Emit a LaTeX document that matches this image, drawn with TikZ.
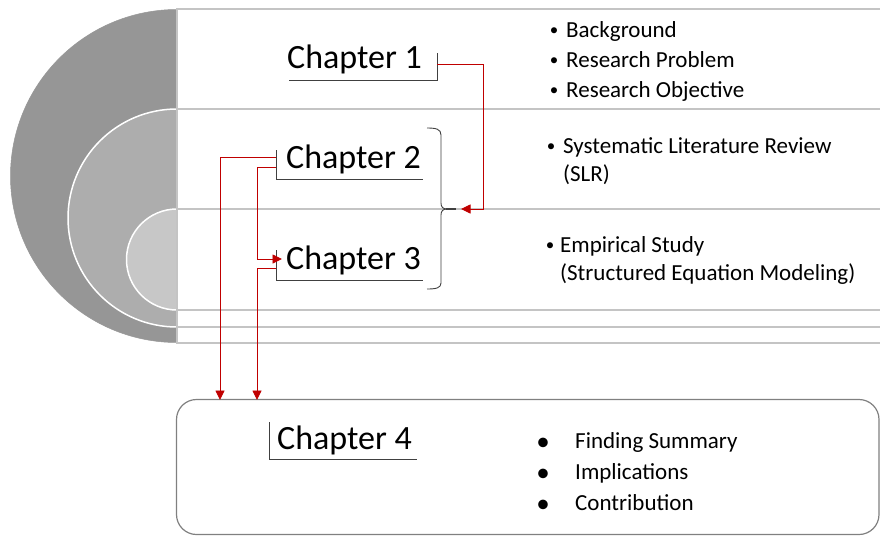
\documentclass[tikz,border=0pt]{standalone}
\usepackage{fontspec}
\setmainfont{Carlito}
\usetikzlibrary{arrows.meta}
\definecolor{gdark}{HTML}{969696}
\definecolor{gmid}{HTML}{ADADAD}
\definecolor{glight}{HTML}{C7C7C7}
\definecolor{rline}{HTML}{C4C4C4}
\definecolor{boxline}{HTML}{808080}
\definecolor{redline}{HTML}{C00000}
\definecolor{brk}{HTML}{404040}
\begin{document}
\begin{tikzpicture}[x=1pt,y=-1pt,
  panel/.style={draw=rline, line width=1.5pt, fill=white},
  half/.style={draw=white, line width=1.5pt},
  chap/.style={inner sep=0pt, anchor=base west, font=\fontsize{34}{40}\selectfont},
  item/.style={inner sep=0pt, anchor=base west, font=\fontsize{23}{28}\selectfont},
  bul/.style={inner sep=0pt, anchor=base, font=\fontsize{17}{20}\selectfont},
  bigbul/.style={inner sep=0pt, anchor=base, font=\fontsize{27}{28}\selectfont},
  bracketline/.style={draw=brk, line width=0.9pt},
  link/.style={draw=redline, line width=0.9pt, -{Triangle[length=9.5pt,width=9pt]}},
]
\useasboundingbox (0,0) rectangle (880,536);
\fill[white] (0,0) rectangle (880,536);

% outer panel
\filldraw[fill=gdark, draw=gdark, line width=0.5pt] (177,342.5) arc[start angle=90,end angle=270,radius=166.5] -- cycle;
\draw[panel] (177,9) rectangle (884,343);
% middle panel
\filldraw[fill=gmid, half] (177,327) arc[start angle=90,end angle=270,radius=109] -- cycle;
\draw[panel] (177,109) rectangle (884,327);
% inner panel
\filldraw[fill=glight, half] (177,310) arc[start angle=90,end angle=270,radius=50.5] -- cycle;
\draw[panel] (177,209) rectangle (884,310);

% chapter 4 box
\draw[draw=boxline, line width=1.2pt, rounded corners=20pt] (176.5,399.5) rectangle (879,534.5);

% chapter labels
\node[chap] (ch1) at (287,68) {Chapter 1};
\node[chap] (ch2) at (286,168) {Chapter 2};
\node[chap] (ch3) at (286,269) {Chapter 3};
\node[chap] (ch4) at (277,449) {Chapter 4};

% label brackets
\draw[bracketline] (289,80) -- (437,80) -- (437,53);
\draw[bracketline] (276,150) -- (276,179) -- (423,179);
\draw[bracketline] (276,250) -- (276,280) -- (423,280);
\draw[bracketline] (269,422) -- (269,459) -- (417,459);

% brace
\draw[bracketline] (427,128) .. controls (436,128) and (441,129) .. (441,135) -- (441,203)
   .. controls (441,207) and (443,209) .. (447,209);
\draw[bracketline] (447,209) .. controls (443,209) and (441,211) .. (441,215) -- (441,283)
   .. controls (441,288) and (436,289) .. (427,289);
\draw[draw=brk, line width=1.4pt] (446,209) -- (456,209);

% connector end points
\coordinate (c1out) at (437,64);
\coordinate (bracetip) at (461,209);
\coordinate (c2a) at (276,157);
\coordinate (c2b) at (276,167);
\coordinate (c3in) at (282,259);
\coordinate (c3b) at (276,268);
\coordinate (c4a) at (220,400);
\coordinate (c4b) at (257,400);

% red connectors
\draw[link] (c1out) -- (483,64) |- (bracetip);
\draw[link] (c2a) -| (c4a);
\draw[link] (c2b) -- (257,167) |- (c3in);
\draw[link] (c3b) -| (c4b);

% right-hand lists
\node[bul] (b1) at (554,35) {•};
\node[item] (t1) at (566,37) {Background};
\node[bul] (b2) at (554,65) {•};
\node[item] (t2) at (566,67) {Research Problem};
\node[bul] (b3) at (554,95) {•};
\node[item] (t3) at (566,97) {Research Objective};
\node[bul] (b4) at (551,151) {•};
\node[item] (t4) at (563,153) {Systematic Literature Review};
\node[item] (t5) at (563,181) {(SLR)};
\node[bul] (b6) at (550,250) {•};
\node[item] (t6) at (560,252) {Empirical Study};
\node[item] (t7) at (560,280) {(Structured Equation Modeling)};

% chapter 4 list
\node[bigbul] (d1) at (543,450) {•};
\node[item] (u1) at (575,448) {Finding Summary};
\node[bigbul] (d2) at (543,481) {•};
\node[item] (u2) at (575,479) {Implications};
\node[bigbul] (d3) at (543,512) {•};
\node[item] (u3) at (575,510) {Contribution};
\end{tikzpicture}
\end{document}
